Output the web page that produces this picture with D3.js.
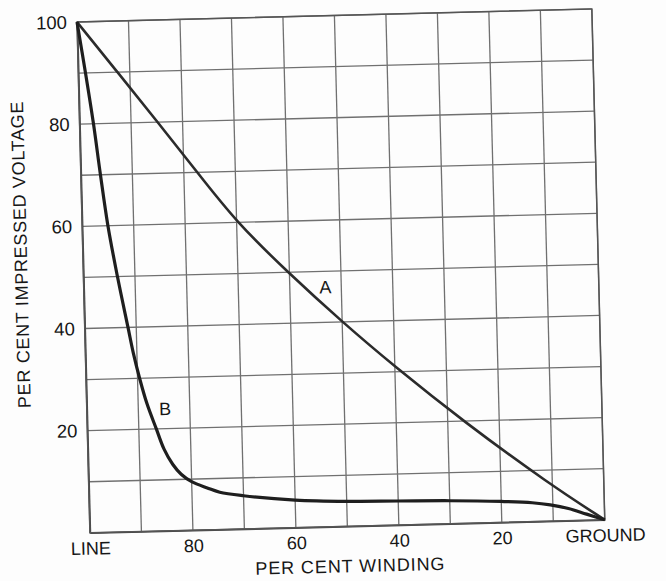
<!DOCTYPE html>
<html>
<head>
<meta charset="utf-8">
<script src="https://cdn.jsdelivr.net/npm/d3@7"></script>
<style>
  html, body { margin: 0; padding: 0; background: #fdfdfd; }
  svg { display: block; }
  text { font-family: "Liberation Sans", Arial, Helvetica, sans-serif; fill: #161616; }
</style>
</head>
<body>
<svg id="chart" width="666" height="581"></svg>
<script>
// ---- data ----
const xTickValues = [100, 80, 60, 40, 20, 0];
const xTickLabels = ["LINE", "80", "60", "40", "20", "GROUND"];
const yTickValues = [20, 40, 60, 80, 100];
const gridX = [100, 90, 80, 70, 60, 50, 40, 30, 20, 10, 0];
const gridY = [0, 10, 20, 30, 40, 50, 60, 70, 80, 90, 100];

const windingA = [100, 92.4, 84.8, 77.4, 70, 60.3, 50, 40, 27, 10.5, 0];
const voltageA = [100, 90, 80, 70, 60, 50, 40, 31, 20, 7.2, 0];

const windingB = [100, 98.6, 97.3, 96.2, 95.0, 93.4, 91.6, 90.7, 89.6, 88.3, 86.6, 85.2, 83.6, 82.0, 80, 77, 74.6, 70, 60, 50, 40, 30, 20, 14, 10.5, 7, 3.5, 0];
const voltageB = [100, 90, 80, 70, 60, 50, 40, 35, 30, 25, 20, 16, 13, 11, 9.5, 8.2, 7.3, 6.5, 5.4, 4.9, 4.7, 4.5, 4.1, 3.7, 3.2, 2.4, 1.2, 0];

const curveLabels = [
  { name: "A", winding: 53.1, voltage: 46.9 },
  { name: "B", winding: 84.8, voltage: 23.9 }
];

// ---- layout ----
const W = 515, H = 511;
const svg = d3.select("#chart");
const g = svg.append("g").attr("transform", "translate(77,22) rotate(-1.45)");

const x = d3.scaleLinear().domain([100, 0]).range([0, W]);
const y = d3.scaleLinear().domain([0, 100]).range([H, 0]);

// grid
g.append("g").selectAll("line").data(gridX).join("line")
  .attr("x1", d => x(d)).attr("x2", d => x(d))
  .attr("y1", 0).attr("y2", H)
  .attr("stroke", "#707070").attr("stroke-width", 1.3);
g.append("g").selectAll("line").data(gridY).join("line")
  .attr("x1", 0).attr("x2", W)
  .attr("y1", d => y(d)).attr("y2", d => y(d))
  .attr("stroke", "#707070").attr("stroke-width", 1.3);

// axes
const xAxis = d3.axisBottom(x).tickValues(xTickValues)
  .tickFormat((d, i) => xTickLabels[i]).tickSize(0).tickPadding(9);
const gx = g.append("g").attr("transform", `translate(0,${H})`).call(xAxis);
gx.select(".domain").attr("stroke", "#444").attr("stroke-width", 1.6);
gx.selectAll("text").attr("font-size", 18).attr("fill", "#161616")
  .attr("font-family", '"Liberation Sans", Arial, sans-serif');

const yAxis = d3.axisLeft(y).tickValues(yTickValues).tickSize(0).tickPadding(10);
const gy = g.append("g").call(yAxis);
gy.select(".domain").attr("stroke", "#444").attr("stroke-width", 1.6);
gy.selectAll("text").attr("font-size", 18.5).attr("fill", "#161616")
  .attr("font-family", '"Liberation Sans", Arial, sans-serif');

// frame
g.append("rect").attr("x", 0).attr("y", 0).attr("width", W).attr("height", H)
  .attr("fill", "none").attr("stroke", "#555").attr("stroke-width", 1.5);

// axis titles
g.append("text").attr("x", W / 2 + 2).attr("y", H + 46)
  .attr("text-anchor", "middle").attr("font-size", 18).attr("letter-spacing", 0.9)
  .text("PER CENT WINDING");
g.append("text").attr("transform", `translate(-56,${231}) rotate(-90)`)
  .attr("text-anchor", "middle").attr("font-size", 18).attr("letter-spacing", 0.7)
  .text("PER CENT IMPRESSED VOLTAGE");

// curves
const lineA = d3.line().x(d => x(d[0])).y(d => y(d[1])).curve(d3.curveBasis);
const lineB = d3.line().x(d => x(d[0])).y(d => y(d[1])).curve(d3.curveCatmullRom.alpha(0.5));
const dataA = windingA.map((w, i) => [w, voltageA[i]]);
const dataB = windingB.map((w, i) => [w, voltageB[i]]);
g.append("path").datum(dataA).attr("d", lineA)
  .attr("fill", "none").attr("stroke", "#2b2b2b").attr("stroke-width", 2.6);
g.append("path").datum(dataB).attr("d", lineB)
  .attr("fill", "none").attr("stroke", "#1e1e1e").attr("stroke-width", 3.2);

// curve labels
g.selectAll(".clabel").data(curveLabels).join("text")
  .attr("class", "clabel")
  .attr("x", d => x(d.winding)).attr("y", d => y(d.voltage))
  .attr("dy", "0.35em").attr("text-anchor", "middle")
  .attr("font-size", 18).attr("fill", "#444")
  .text(d => d.name);
</script>
</body>
</html>
